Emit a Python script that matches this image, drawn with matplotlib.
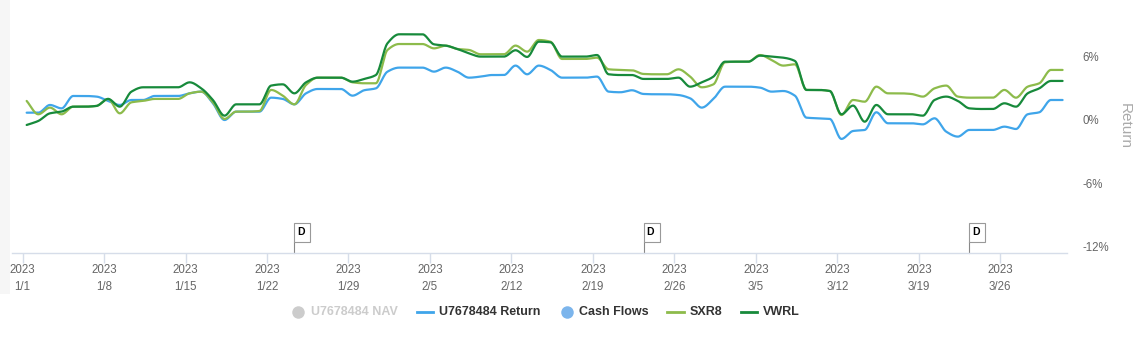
import numpy as np
import matplotlib
matplotlib.use("Agg")
import matplotlib.pyplot as plt
from matplotlib.patches import Rectangle
from matplotlib.lines import Line2D
import matplotlib.transforms as mtransforms

plt.rcParams['font.family'] = ['Liberation Sans', 'DejaVu Sans']

# Data: daily returns (%) from 1/1 to 3/31 2023
days = np.arange(90)

u_return = [0.69, 0.69, 1.42, 1.10, 2.27, 2.27, 2.21, 1.80, 1.42, 1.89,
            1.89, 2.27, 2.27, 2.27, 2.52, 2.68, 1.58, 0.00, 0.79, 0.79,
            0.79, 2.11, 1.99, 1.48, 2.52, 2.93, 2.93, 2.93, 2.30, 2.81,
            2.99, 4.57, 4.95, 4.95, 4.95, 4.57, 4.95, 4.57, 4.00, 4.10,
            4.25, 4.25, 5.14, 4.32, 5.14, 4.73, 4.00, 4.00, 4.00, 4.10,
            2.68, 2.62, 2.81, 2.46, 2.43, 2.43, 2.36, 2.05, 1.17, 1.99,
            3.15, 3.15, 3.15, 3.06, 2.68, 2.74, 2.30, 0.22, 0.16, 0.10,
            -1.79, -1.04, -0.94, 0.73, -0.31, -0.31, -0.31, -0.41, 0.16, -1.10,
            -1.57, -0.94, -0.94, -0.94, -0.63, -0.85, 0.54, 0.73, 1.89, 1.89]

sxr8 = [1.80, 0.54, 1.17, 0.54, 1.26, 1.26, 1.33, 1.99, 0.63, 1.67,
        1.80, 1.99, 1.99, 1.99, 2.52, 2.68, 1.67, 0.10, 0.79, 0.79,
        0.85, 2.84, 2.30, 1.48, 3.31, 4.00, 4.00, 4.00, 3.56, 3.47,
        3.47, 6.62, 7.18, 7.18, 7.18, 6.77, 7.03, 6.71, 6.62, 6.21,
        6.21, 6.21, 7.03, 6.46, 7.56, 7.40, 5.77, 5.77, 5.77, 5.89,
        4.79, 4.73, 4.70, 4.35, 4.32, 4.32, 4.79, 4.10, 3.09, 3.37,
        5.45, 5.51, 5.51, 6.14, 5.67, 5.14, 5.26, 2.84, 2.84, 2.74,
        0.47, 1.89, 1.73, 3.15, 2.52, 2.52, 2.46, 2.21, 2.99, 3.25,
        2.21, 2.11, 2.11, 2.11, 2.84, 2.11, 3.15, 3.47, 4.73, 4.73]

vwrl = [-0.47, -0.09, 0.63, 0.79, 1.26, 1.26, 1.33, 1.99, 1.26, 2.68,
        3.09, 3.09, 3.09, 3.09, 3.56, 2.99, 1.89, 0.41, 1.48, 1.48,
        1.48, 3.25, 3.37, 2.52, 3.56, 4.00, 4.00, 4.00, 3.62, 3.88,
        4.25, 7.25, 8.10, 8.10, 8.10, 7.15, 7.03, 6.71, 6.30, 5.99,
        5.99, 5.99, 6.59, 5.96, 7.40, 7.34, 5.99, 5.99, 5.99, 6.14,
        4.32, 4.25, 4.25, 3.88, 3.88, 3.88, 4.00, 3.15, 3.56, 4.10,
        5.51, 5.51, 5.51, 6.08, 5.99, 5.89, 5.58, 2.84, 2.84, 2.74,
        0.54, 1.36, -0.16, 1.42, 0.54, 0.54, 0.54, 0.41, 1.89, 2.21,
        1.80, 1.10, 1.04, 1.04, 1.58, 1.26, 2.52, 2.99, 3.69, 3.69]

dividend_days = [23, 53, 81]   # 1/24, 2/23, 3/23

tick_days = np.arange(0, 85, 7)
tick_labels = ["2023\n1/1", "2023\n1/8", "2023\n1/15", "2023\n1/22", "2023\n1/29",
               "2023\n2/5", "2023\n2/12", "2023\n2/19", "2023\n2/26", "2023\n3/5",
               "2023\n3/12", "2023\n3/19", "2023\n3/26"]
y_ticks = [6, 0, -6, -12]

BLUE = "#3fa5ea"
LGREEN = "#8dbb4b"
DGREEN = "#178a3b"
shift = 0.35  # data points sit slightly right of the midnight ticks


def smooth(x, y, n=16):
    # monotone cubic (pchip-like) so the lines look like the spline chart
    x = np.asarray(x, float)
    y = np.asarray(y, float)
    h = np.diff(x)
    d = np.diff(y) / h
    m = np.zeros_like(y)
    m[0], m[-1] = d[0], d[-1]
    for k in range(1, len(y) - 1):
        if d[k - 1] * d[k] > 0:
            m[k] = 2 / (1 / d[k - 1] + 1 / d[k])
    xs, ys = [], []
    for k in range(len(x) - 1):
        t = np.linspace(0, 1, n, endpoint=False)
        h00 = 2 * t**3 - 3 * t**2 + 1
        h10 = t**3 - 2 * t**2 + t
        h01 = -2 * t**3 + 3 * t**2
        h11 = t**3 - t**2
        xs.append(x[k] + t * h[k])
        ys.append(h00 * y[k] + h10 * h[k] * m[k] + h01 * y[k + 1] + h11 * h[k] * m[k + 1])
    xs.append([x[-1]])
    ys.append([y[-1]])
    return np.concatenate(xs), np.concatenate(ys)


W, H = 1144, 342
fig = plt.figure(figsize=(W / 100, H / 100), dpi=100)

# plot area in pixels: left 12, right 1067, top 20, bottom 253
ax = fig.add_axes([12 / W, 1 - 253 / H, (1067 - 12) / W, (253 - 20) / H])

# light grey strip at the far left
fig.patches.append(Rectangle((0, 1 - 294 / H), 10 / W, 294 / H, transform=fig.transFigure,
                             facecolor="#f6f6f6", edgecolor="none", zorder=0))

for vals, col in [(u_return, BLUE), (sxr8, LGREEN), (vwrl, DGREEN)]:
    sx, sy = smooth(days + shift, vals)
    ax.plot(sx, sy, color=col, lw=1.6, solid_capstyle="round")

ax.set_xlim(-0.91, 89.73)
ax.set_ylim(-12.57, 9.45)

for s in ["top", "left", "right"]:
    ax.spines[s].set_visible(False)
ax.spines["bottom"].set_color("#d6dde9")
ax.spines["bottom"].set_linewidth(1)

ax.set_xticks(tick_days)
ax.set_xticklabels(tick_labels, fontsize=8.3, color="#666666", linespacing=1.5)
ax.tick_params(axis="x", length=7, color="#d6dde9", width=1, pad=1)

ax.yaxis.tick_right()
ax.set_yticks(y_ticks)
ax.set_yticklabels([f"{v}%" for v in y_ticks], fontsize=8.3, color="#666666", ha="left")
ax.tick_params(axis="y", length=0, pad=11)

fig.text(1125 / W, 1 - 126 / H, "Return", rotation=-90, fontsize=11, color="#aaaaaa",
         ha="center", va="center")

# dividend flags
trans = mtransforms.blended_transform_factory(ax.transData, ax.transAxes)
box_w = 16 / 11.64
for d in dividend_days:
    xd = d + shift
    ax.plot([xd, xd], [0, 0.0485], transform=trans, color="#888888", lw=0.8, clip_on=False)
    ax.add_patch(Rectangle((xd, 0.0485), box_w, 0.08, transform=trans, facecolor="white",
                           edgecolor="#999999", lw=0.8, clip_on=False, zorder=5))
    ax.text(xd + 0.27, 0.0885, "D", transform=trans, fontsize=7.5, fontweight="bold",
            color="black", va="center", ha="left", zorder=6)

# legend
ly = 1 - 312 / H
for x, col in [(298, "#cccccc"), (567, "#7cb5ec")]:
    fig.add_artist(Line2D([x / W], [ly], marker="o", markersize=9, color=col,
                          markeredgewidth=0, transform=fig.transFigure))
for x0, x1, col in [(417, 433, BLUE), (667, 684, LGREEN), (741, 757, DGREEN)]:
    fig.add_artist(Line2D([x0 / W, x1 / W], [ly, ly], color=col, lw=2, transform=fig.transFigure))
for x, txt, col in [(311, "U7678484 NAV", "#cccccc"), (439, "U7678484 Return", "#333333"),
                    (579, "Cash Flows", "#333333"), (690, "SXR8", "#333333"),
                    (763, "VWRL", "#333333")]:
    fig.text(x / W, ly, txt, fontsize=9, fontweight="bold", color=col, ha="left", va="center")

fig.savefig("out.png", dpi=100)
